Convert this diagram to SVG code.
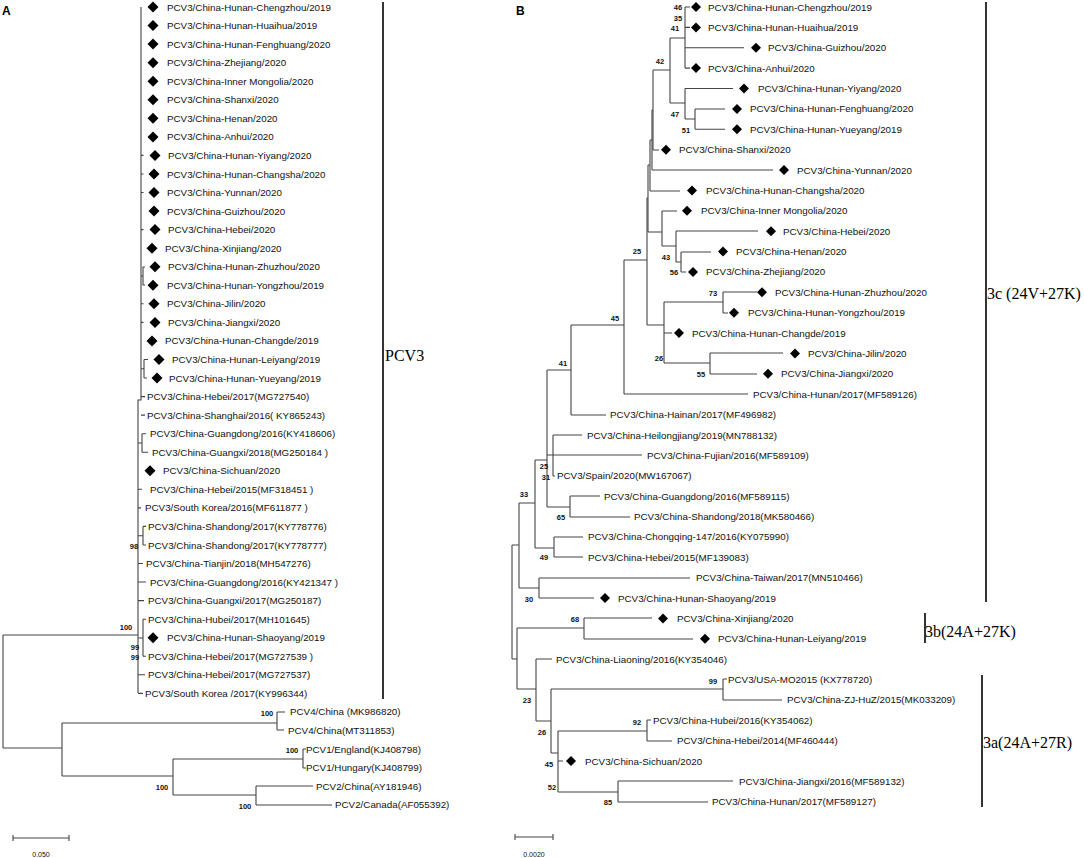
<svg xmlns="http://www.w3.org/2000/svg" width="1084" height="858" viewBox="0 0 1084 858">
<defs>
<style>
.t{font-family:"Liberation Sans",Arial,sans-serif;font-size:9.8px;fill:#111}
.bs{font-family:"Liberation Sans",Arial,sans-serif;font-size:7.5px;font-weight:bold;fill:#111;text-anchor:middle}
.cl{font-family:"Liberation Serif","Times New Roman",serif;font-size:16px;fill:#000}
.pl{font-family:"Liberation Sans",Arial,sans-serif;font-size:12px;font-weight:bold;fill:#000}
.sc{font-family:"Liberation Sans",Arial,sans-serif;font-size:7px;fill:#111;text-anchor:middle}
.e{stroke:#444;stroke-width:1.1;fill:none}
.bar{stroke:#000;stroke-width:1.6;fill:none}
</style>
<path id="da" d="M0,-5.5L5.5,0L0,5.5L-5.5,0Z" fill="#000"/>
<path id="db" d="M0,-5L5,0L0,5L-5,0Z" fill="#000"/>
</defs>
<rect width="1084" height="858" fill="#fff"/>

<text class="pl" x="2" y="15">A</text>
<text class="pl" x="516" y="15">B</text>

<!-- ================= PANEL A connectors ================= -->
<g id="connectorsA" class="e">
<path d="M141,7V400H138V693"/>
<path d="M3,635H138M3,635V748M3,748H62M62,723V776M62,723H277M277,712V730M277,712H285M277,730H284M62,776H173M173,759V795M173,759H303M303,749V768M303,749H306M303,768H306M173,795H256M256,786V805M256,786H313M256,805H332"/>
<path d="M141,155.4H143.5M141,174H143.5M141,192.5H143.5M141,229.6H143.5M141,303.8H143.5M141,322.4H143.5"/>
<path d="M141,276H143V267H145M143,276V285H145"/>
<path d="M141,368.7H144M144,359.5V378M144,359.5H148M144,378H147"/>
<path d="M141,396.6H145M141,415.1H145"/>
<path d="M138,443H142M142,433.7V452.2M142,433.7H146M142,452.2H148"/>
<path d="M138,489.3H142M138,507.9H141"/>
<path d="M138,535.7H143M143,526.4V545M143,526.4H146M143,545H146"/>
<path d="M138,563.5H143M138,582H146M138,600.6H144"/>
<path d="M138,638H143M143,619.2V656.3M143,619.2H146M143,656.3H146"/>
<path d="M138,674.8H145M138,693.4H143"/>
<path d="M13,838H69M13,835V841M69,835V841"/>
</g>
<path class="bar" d="M383,2V699"/>
<text class="cl" x="385" y="361">PCV3</text>

<g id="bootA">
<text class="bs" x="134" y="549">98</text>
<text class="bs" x="126" y="630">100</text>
<text class="bs" x="135" y="650">99</text>
<text class="bs" x="135" y="660">99</text>
<text class="bs" x="267" y="716">100</text>
<text class="bs" x="292" y="753">100</text>
<text class="bs" x="162" y="790">100</text>
<text class="bs" x="245" y="809">100</text>
</g>
<text class="sc" x="41" y="857">0.050</text>

<g id="A-leaves">
<g id="a1"><use href="#da" x="153" y="7"/><text class="t" x="167" y="10.5">PCV3/China-Hunan-Chengzhou/2019</text></g>
<g id="a2"><use href="#da" x="153" y="25.5"/><text class="t" x="167" y="29">PCV3/China-Hunan-Huaihua/2019</text></g>
<g id="a3"><use href="#da" x="153" y="44.1"/><text class="t" x="167" y="47.6">PCV3/China-Hunan-Fenghuang/2020</text></g>
<g id="a4"><use href="#da" x="153" y="62.7"/><text class="t" x="167" y="66.2">PCV3/China-Zhejiang/2020</text></g>
<g id="a5"><use href="#da" x="153" y="81.2"/><text class="t" x="167" y="84.7">PCV3/China-Inner Mongolia/2020</text></g>
<g id="a6"><use href="#da" x="153" y="99.8"/><text class="t" x="167" y="103.3">PCV3/China-Shanxi/2020</text></g>
<g id="a7"><use href="#da" x="153" y="118.3"/><text class="t" x="167" y="121.8">PCV3/China-Henan/2020</text></g>
<g id="a8"><use href="#da" x="153" y="136.9"/><text class="t" x="167" y="140.4">PCV3/China-Anhui/2020</text></g>
<g id="a9"><use href="#da" x="155" y="155.4"/><text class="t" x="168" y="158.9">PCV3/China-Hunan-Yiyang/2020</text></g>
<g id="a10"><use href="#da" x="154" y="174"/><text class="t" x="167" y="177.5">PCV3/China-Hunan-Changsha/2020</text></g>
<g id="a11"><use href="#da" x="154" y="192.5"/><text class="t" x="167" y="196">PCV3/China-Yunnan/2020</text></g>
<g id="a12"><use href="#da" x="154" y="211.1"/><text class="t" x="167" y="214.6">PCV3/China-Guizhou/2020</text></g>
<g id="a13"><use href="#da" x="155" y="229.6"/><text class="t" x="168" y="233.1">PCV3/China-Hebei/2020</text></g>
<g id="a14"><use href="#da" x="152" y="248.2"/><text class="t" x="165" y="251.7">PCV3/China-Xinjiang/2020</text></g>
<g id="a15"><use href="#da" x="155" y="266.7"/><text class="t" x="168" y="270.2">PCV3/China-Hunan-Zhuzhou/2020</text></g>
<g id="a16"><use href="#da" x="153" y="285.3"/><text class="t" x="167" y="288.8">PCV3/China-Hunan-Yongzhou/2019</text></g>
<g id="a17"><use href="#da" x="154" y="303.8"/><text class="t" x="167" y="307.3">PCV3/China-Jilin/2020</text></g>
<g id="a18"><use href="#da" x="155" y="322.4"/><text class="t" x="168" y="325.9">PCV3/China-Jiangxi/2020</text></g>
<g id="a19"><use href="#da" x="152" y="340.9"/><text class="t" x="165" y="344.4">PCV3/China-Hunan-Changde/2019</text></g>
<g id="a20"><use href="#da" x="159" y="359.5"/><text class="t" x="172" y="363">PCV3/China-Hunan-Leiyang/2019</text></g>
<g id="a21"><use href="#da" x="157" y="378"/><text class="t" x="169" y="381.5">PCV3/China-Hunan-Yueyang/2019</text></g>
<g id="a22"><text class="t" x="147" y="400">PCV3/China-Hebei/2017(MG727540)</text></g>
<g id="a23"><text class="t" x="147" y="418.6">PCV3/China-Shanghai/2016( KY865243)</text></g>
<g id="a24"><text class="t" x="150" y="437.2">PCV3/China-Guangdong/2016(KY418606)</text></g>
<g id="a25"><text class="t" x="152" y="455.7">PCV3/China-Guangxi/2018(MG250184 )</text></g>
<g id="a26"><use href="#da" x="150" y="470.8"/><text class="t" x="163" y="474.3">PCV3/China-Sichuan/2020</text></g>
<g id="a27"><text class="t" x="150" y="492.8">PCV3/China-Hebei/2015(MF318451 )</text></g>
<g id="a28"><text class="t" x="145" y="511.4">PCV3/South Korea/2016(MF611877 )</text></g>
<g id="a29"><text class="t" x="148" y="529.9">PCV3/China-Shandong/2017(KY778776)</text></g>
<g id="a30"><text class="t" x="148" y="548.5">PCV3/China-Shandong/2017(KY778777)</text></g>
<g id="a31"><text class="t" x="146" y="567">PCV3/China-Tianjin/2018(MH547276)</text></g>
<g id="a32"><text class="t" x="150" y="585.6">PCV3/China-Guangdong/2016(KY421347 )</text></g>
<g id="a33"><text class="t" x="148" y="604.1">PCV3/China-Guangxi/2017(MG250187)</text></g>
<g id="a34"><text class="t" x="148" y="622.7">PCV3/China-Hubei/2017(MH101645)</text></g>
<g id="a35"><use href="#da" x="153" y="637.7"/><text class="t" x="167" y="641.2">PCV3/China-Hunan-Shaoyang/2019</text></g>
<g id="a36"><text class="t" x="148" y="659.8">PCV3/China-Hebei/2017(MG727539 )</text></g>
<g id="a37"><text class="t" x="148" y="678.3">PCV3/China-Hebei/2017(MG727537)</text></g>
<g id="a38"><text class="t" x="145" y="696.9">PCV3/South Korea /2017(KY996344)</text></g>
<g id="a39"><text class="t" x="290" y="715.4">PCV4/China (MK986820)</text></g>
<g id="a40"><text class="t" x="288" y="734">PCV4/China(MT311853)</text></g>
<g id="a41"><text class="t" x="306" y="752.5">PCV1/England(KJ408798)</text></g>
<g id="a42"><text class="t" x="306" y="771.1">PCV1/Hungary(KJ408799)</text></g>
<g id="a43"><text class="t" x="316" y="789.6">PCV2/China(AY181946)</text></g>
<g id="a44"><text class="t" x="335" y="808.2">PCV2/Canada(AF055392)</text></g>
</g>

<!-- ================= PANEL B connectors ================= -->
<g id="connectorsB" class="e">
<path d="M512,545V659M512,545H519M512,659H517"/>
<path d="M519,503V588M519,503H535M519,588H539"/>
<path d="M535,460V548M535,460H547M535,548H554"/>
<path d="M554,537V557M554,537H583M554,557H583"/>
<path d="M539,578V598M539,578H690M539,598H594"/>
<path d="M547,370V507M547,370H571M547,455H553M547,507H570"/>
<path d="M553,435V476M553,435H582M553,455H642M553,476H555"/>
<path d="M570,496V517M570,496H600M570,517H630"/>
<path d="M571,325V415M571,415H606M571,325H624"/>
<path d="M624,260V394M624,394H748M624,260H647"/>
<path d="M647,198V325M647,325H664M647,198H648"/>
<path d="M648,165V232M648,165H650M648,232H662"/>
<path d="M650,140V191M650,140H652M650,191H680"/>
<path d="M652,110V170M652,110H653M652,170H773"/>
<path d="M653,70V150M653,70H670M653,150H659"/>
<path d="M670,38V103M670,38H685M670,103H685"/>
<path d="M685,7V68M685,7H690M685,27.4H690M685,47.8H744M685,68.1H690"/>
<path d="M685,88.5V119M685,88.5H733M685,119H695"/>
<path d="M695,109V129M695,109H725M695,129.3H725"/>
<path d="M662,211V246M662,211H677M662,246H676"/>
<path d="M676,231V262M676,231H758M676,262H681"/>
<path d="M681,252V272M681,252H711M681,272H686"/>
<path d="M664,302V363M664,302H723M664,333H672M664,363H710"/>
<path d="M723,292V313M723,292H757M723,313H728"/>
<path d="M710,353V374M710,353H783M710,374H757"/>
<path d="M517,628V689M517,628H584M517,689H536"/>
<path d="M584,618V639M584,618H652M584,639H693"/>
<path d="M536,659V721M536,659H552M536,721H551"/>
<path d="M551,689V753M551,689H723M551,753H558"/>
<path d="M723,679V700M723,679H727M723,700H782"/>
<path d="M558,731V792M558,731H647M558,761H563M558,792H618"/>
<path d="M647,720V741M647,720H651M647,741H672"/>
<path d="M618,781V802M618,781H733M618,802H708"/>
<path d="M515,837H553M515,834V840M553,834V840"/>
</g>
<path class="bar" d="M986,2V602"/>
<text class="cl" x="987" y="299">3c (24V+27K)</text>
<path class="bar" d="M925,613V643"/>
<text class="cl" x="925" y="637">3b(24A+27K)</text>
<path class="bar" d="M982,675V807"/>
<text class="cl" x="983" y="748">3a(24A+27R)</text>
<text class="sc" x="534" y="857">0.0020</text>

<g id="bootB">
<text class="bs" x="678" y="10">46</text>
<text class="bs" x="678" y="21">35</text>
<text class="bs" x="675" y="31">41</text>
<text class="bs" x="660" y="64">42</text>
<text class="bs" x="675" y="117">47</text>
<text class="bs" x="686" y="133">51</text>
<text class="bs" x="637" y="254">25</text>
<text class="bs" x="666" y="260">43</text>
<text class="bs" x="674" y="275">56</text>
<text class="bs" x="713" y="296">73</text>
<text class="bs" x="615" y="321">45</text>
<text class="bs" x="659" y="361">26</text>
<text class="bs" x="701" y="377">55</text>
<text class="bs" x="563" y="366">41</text>
<text class="bs" x="544" y="469">25</text>
<text class="bs" x="546" y="480">31</text>
<text class="bs" x="524" y="497">33</text>
<text class="bs" x="561" y="520">65</text>
<text class="bs" x="544" y="560">49</text>
<text class="bs" x="529" y="602">30</text>
<text class="bs" x="575" y="622">68</text>
<text class="bs" x="527" y="703">23</text>
<text class="bs" x="713" y="684">99</text>
<text class="bs" x="637" y="725">92</text>
<text class="bs" x="542" y="735">26</text>
<text class="bs" x="549" y="767">45</text>
<text class="bs" x="552" y="790">52</text>
<text class="bs" x="608" y="805">85</text>
</g>

<g id="B-leaves">
<g id="b1"><use href="#db" x="696" y="7"/><text class="t" x="708" y="10.5">PCV3/China-Hunan-Chengzhou/2019</text></g>
<g id="b2"><use href="#db" x="696" y="27.4"/><text class="t" x="708" y="30.9">PCV3/China-Hunan-Huaihua/2019</text></g>
<g id="b3"><use href="#db" x="756" y="47.8"/><text class="t" x="768" y="51.3">PCV3/China-Guizhou/2020</text></g>
<g id="b4"><use href="#db" x="696" y="68.1"/><text class="t" x="708" y="71.6">PCV3/China-Anhui/2020</text></g>
<g id="b5"><use href="#db" x="744" y="88.5"/><text class="t" x="758" y="92">PCV3/China-Hunan-Yiyang/2020</text></g>
<g id="b6"><use href="#db" x="737" y="108.9"/><text class="t" x="750" y="112.4">PCV3/China-Hunan-Fenghuang/2020</text></g>
<g id="b7"><use href="#db" x="737" y="129.3"/><text class="t" x="750" y="132.8">PCV3/China-Hunan-Yueyang/2019</text></g>
<g id="b8"><use href="#db" x="666" y="149.7"/><text class="t" x="679" y="153.2">PCV3/China-Shanxi/2020</text></g>
<g id="b9"><use href="#db" x="784" y="170"/><text class="t" x="797" y="173.5">PCV3/China-Yunnan/2020</text></g>
<g id="b10"><use href="#db" x="692" y="190.4"/><text class="t" x="706" y="193.9">PCV3/China-Hunan-Changsha/2020</text></g>
<g id="b11"><use href="#db" x="687" y="210.8"/><text class="t" x="701" y="214.3">PCV3/China-Inner Mongolia/2020</text></g>
<g id="b12"><use href="#db" x="771" y="231.2"/><text class="t" x="783" y="234.7">PCV3/China-Hebei/2020</text></g>
<g id="b13"><use href="#db" x="723" y="251.6"/><text class="t" x="736" y="255.1">PCV3/China-Henan/2020</text></g>
<g id="b14"><use href="#db" x="693" y="271.9"/><text class="t" x="706" y="275.4">PCV3/China-Zhejiang/2020</text></g>
<g id="b15"><use href="#db" x="762" y="292.3"/><text class="t" x="775" y="295.8">PCV3/China-Hunan-Zhuzhou/2020</text></g>
<g id="b16"><use href="#db" x="734" y="312.7"/><text class="t" x="748" y="316.2">PCV3/China-Hunan-Yongzhou/2019</text></g>
<g id="b17"><use href="#db" x="679" y="333.1"/><text class="t" x="692" y="336.6">PCV3/China-Hunan-Changde/2019</text></g>
<g id="b18"><use href="#db" x="795" y="353.5"/><text class="t" x="808" y="357">PCV3/China-Jilin/2020</text></g>
<g id="b19"><use href="#db" x="768" y="373.8"/><text class="t" x="781" y="377.3">PCV3/China-Jiangxi/2020</text></g>
<g id="b20"><text class="t" x="753" y="397.7">PCV3/China-Hunan/2017(MF589126)</text></g>
<g id="b21"><text class="t" x="610" y="418.1">PCV3/China-Hainan/2017(MF496982)</text></g>
<g id="b22"><text class="t" x="587" y="438.5">PCV3/China-Heilongjiang/2019(MN788132)</text></g>
<g id="b23"><text class="t" x="647" y="458.9">PCV3/China-Fujian/2016(MF589109)</text></g>
<g id="b24"><text class="t" x="557" y="479.2">PCV3/Spain/2020(MW167067)</text></g>
<g id="b25"><text class="t" x="604" y="499.6">PCV3/China-Guangdong/2016(MF589115)</text></g>
<g id="b26"><text class="t" x="634" y="520">PCV3/China-Shandong/2018(MK580466)</text></g>
<g id="b27"><text class="t" x="588" y="540.4">PCV3/China-Chongqing-147/2016(KY075990)</text></g>
<g id="b28"><text class="t" x="588" y="560.8">PCV3/China-Hebei/2015(MF139083)</text></g>
<g id="b29"><text class="t" x="696" y="581.1">PCV3/China-Taiwan/2017(MN510466)</text></g>
<g id="b30"><use href="#db" x="605" y="598"/><text class="t" x="618" y="601.5">PCV3/China-Hunan-Shaoyang/2019</text></g>
<g id="b31"><use href="#db" x="663" y="618.4"/><text class="t" x="677" y="621.9">PCV3/China-Xinjiang/2020</text></g>
<g id="b32"><use href="#db" x="705" y="638.8"/><text class="t" x="718" y="642.3">PCV3/China-Hunan-Leiyang/2019</text></g>
<g id="b33"><text class="t" x="556" y="662.7">PCV3/China-Liaoning/2016(KY354046)</text></g>
<g id="b34"><text class="t" x="728" y="683">PCV3/USA-MO2015 (KX778720)</text></g>
<g id="b35"><text class="t" x="787" y="703.4">PCV3/China-ZJ-HuZ/2015(MK033209)</text></g>
<g id="b36"><text class="t" x="653" y="723.8">PCV3/China-Hubei/2016(KY354062)</text></g>
<g id="b37"><text class="t" x="677" y="744.2">PCV3/China-Hebei/2014(MF460444)</text></g>
<g id="b38"><use href="#db" x="571" y="761.1"/><text class="t" x="585" y="764.6">PCV3/China-Sichuan/2020</text></g>
<g id="b39"><text class="t" x="739" y="784.9">PCV3/China-Jiangxi/2016(MF589132)</text></g>
<g id="b40"><text class="t" x="712" y="805.3">PCV3/China-Hunan/2017(MF589127)</text></g>
</g>
</svg>
